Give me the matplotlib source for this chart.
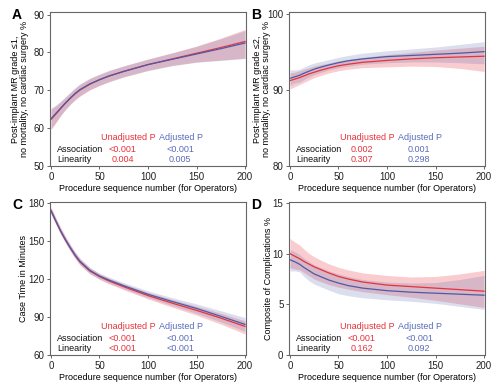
import matplotlib
matplotlib.use("Agg")
import matplotlib.pyplot as plt

plt.rcParams['font.family'] = ['Liberation Sans', 'DejaVu Sans']
plt.rcParams['font.size'] = 6.5

# procedure sequence numbers where the curves were read
seq = [0, 5, 10, 15, 20, 25, 30, 40, 50, 60, 75, 100, 125, 150, 175, 200]

# Panel A: MR grade <=1
a_red = [62.3, 63.7, 65.2, 66.6, 67.9, 69.1, 70.1, 71.6, 72.8, 73.8, 75.0, 76.8, 78.3, 79.8, 81.3, 82.9]
a_red_lo = [59.6, 61.4, 63.3, 64.9, 66.3, 67.5, 68.5, 70.1, 71.3, 72.3, 73.6, 75.3, 76.6, 77.5, 78.0, 78.5]
a_red_hi = [65.0, 65.9, 67.0, 68.2, 69.4, 70.6, 71.6, 73.1, 74.2, 75.2, 76.4, 78.2, 79.9, 81.7, 83.8, 86.1]
a_blue = [62.5, 63.9, 65.3, 66.7, 68.0, 69.2, 70.2, 71.7, 72.8, 73.8, 75.0, 76.8, 78.2, 79.6, 81.0, 82.5]
a_blue_lo = [59.8, 61.6, 63.4, 65.0, 66.4, 67.6, 68.6, 70.2, 71.3, 72.3, 73.5, 75.2, 76.5, 77.4, 77.9, 78.4]
a_blue_hi = [65.3, 66.1, 67.1, 68.3, 69.5, 70.7, 71.7, 73.2, 74.3, 75.3, 76.5, 78.3, 79.9, 81.6, 83.6, 85.8]

# Panel B: MR grade <=2
b_red = [91.2, 91.4, 91.6, 91.85, 92.1, 92.3, 92.5, 92.85, 93.15, 93.35, 93.6, 93.85, 94.05, 94.2, 94.3, 94.4]
b_red_lo = [90.1, 90.4, 90.7, 91.0, 91.3, 91.6, 91.8, 92.2, 92.5, 92.7, 92.9, 93.0, 93.1, 93.05, 92.8, 92.4]
b_red_hi = [92.2, 92.3, 92.5, 92.7, 92.9, 93.1, 93.25, 93.5, 93.8, 94.0, 94.25, 94.6, 94.9, 95.2, 95.45, 95.7]
b_blue = [91.5, 91.7, 91.9, 92.2, 92.45, 92.7, 92.9, 93.25, 93.55, 93.8, 94.05, 94.35, 94.5, 94.65, 94.8, 95.0]
b_blue_lo = [90.6, 90.9, 91.0, 91.4, 91.7, 92.0, 92.2, 92.6, 92.9, 93.1, 93.35, 93.55, 93.65, 93.65, 93.55, 93.4]
b_blue_hi = [92.6, 92.6, 92.7, 93.0, 93.3, 93.5, 93.65, 93.95, 94.25, 94.5, 94.8, 95.1, 95.35, 95.6, 95.95, 96.3]

# Panel C: case time
c_red = [174.5, 166, 158, 151, 144.5, 138.5, 133.5, 126.5, 122, 118.5, 114, 107, 101, 95.3, 89.2, 82.6]
c_red_lo = [172.0, 163.5, 155.5, 148.5, 142.0, 136.0, 131.0, 124.1, 119.7, 116.2, 111.6, 104.3, 97.8, 91.5, 84.4, 76.6]
c_red_hi = [177.0, 168.5, 160.5, 153.5, 147.0, 141.0, 136.0, 128.9, 124.2, 120.7, 116.2, 109.5, 103.9, 98.6, 93.0, 87.0]
c_blue = [174, 165.8, 158, 151, 144.8, 139, 134, 127, 122.5, 119.2, 114.8, 108, 102.3, 96.8, 90.6, 84.2]
c_blue_lo = [171.5, 163.3, 155.5, 148.5, 142.3, 136.5, 131.5, 124.6, 120.2, 116.9, 112.4, 105.3, 99.1, 93.0, 86.2, 78.8]
c_blue_hi = [176.5, 168.3, 160.5, 153.5, 147.3, 141.5, 136.5, 129.4, 124.8, 121.5, 117.2, 110.7, 105.3, 100.4, 95.0, 89.6]

# Panel D: complications
d_red = [10.0, 9.75, 9.5, 9.2, 8.95, 8.7, 8.5, 8.1, 7.75, 7.5, 7.2, 6.9, 6.75, 6.6, 6.45, 6.3]
d_red_lo = [8.6, 8.5, 8.4, 8.1, 7.8, 7.5, 7.3, 6.95, 6.7, 6.5, 6.25, 5.95, 5.7, 5.4, 5.05, 4.7]
d_red_hi = [11.5, 11.15, 10.85, 10.4, 10.0, 9.7, 9.45, 9.0, 8.65, 8.4, 8.1, 7.85, 7.7, 7.75, 8.0, 8.35]
d_blue = [9.4, 9.2, 8.95, 8.6, 8.3, 8.0, 7.8, 7.4, 7.1, 6.85, 6.6, 6.35, 6.2, 6.1, 6.0, 5.9]
d_blue_lo = [8.3, 8.3, 8.2, 7.7, 7.3, 7.0, 6.8, 6.4, 6.05, 5.85, 5.65, 5.45, 5.3, 5.1, 4.8, 4.5]
d_blue_hi = [10.4, 10.2, 9.9, 9.5, 9.2, 8.9, 8.7, 8.3, 8.0, 7.75, 7.45, 7.2, 7.1, 7.15, 7.45, 7.85]

letters = ['A', 'B', 'C', 'D']
ylabels = ['Post-implant MR grade \u22641,\nno mortality, no cardiac surgery %',
           'Post-implant MR grade \u22642,\nno mortality, no cardiac surgery %',
           'Case Time in Minutes',
           'Composite of Complications %']
ylims = [(50, 90.7), (80, 100.2), (60, 181), (0, 15.1)]
yticks = [[50, 60, 70, 80, 90], [80, 90, 100], [60, 90, 120, 150, 180], [0, 5, 10, 15]]
xticks = [0, 50, 100, 150, 200]
p_unadj = [['<0.001', '0.004'], ['0.002', '0.307'], ['<0.001', '<0.001'], ['<0.001', '0.162']]
p_adj = [['<0.001', '0.005'], ['0.001', '0.298'], ['<0.001', '<0.001'], ['<0.001', '0.092']]
label_x = [-0.105, -0.09, -0.11, -0.084]

series = [
    (a_red, a_red_lo, a_red_hi, a_blue, a_blue_lo, a_blue_hi),
    (b_red, b_red_lo, b_red_hi, b_blue, b_blue_lo, b_blue_hi),
    (c_red, c_red_lo, c_red_hi, c_blue, c_blue_lo, c_blue_hi),
    (d_red, d_red_lo, d_red_hi, d_blue, d_blue_lo, d_blue_hi),
]

RED = '#e8313a'
BLUE = '#4c5aa8'
BLUE_TXT = '#5a6cbc'
GREY = '#666666'

fig = plt.figure(figsize=(5.03, 3.90), dpi=100)
W, H = 503.0, 390.0
# axes boxes in pixels: (left, top, right, bottom)
boxes = [(50, 12, 246, 166), (289, 12, 485, 166), (50, 202, 246, 355), (289, 202, 485, 355)]

for i, (l, t, r, b) in enumerate(boxes):
    ax = fig.add_axes([l / W, 1 - b / H, (r - l) / W, (b - t) / H])
    red, red_lo, red_hi, blue, blue_lo, blue_hi = series[i]

    ax.fill_between(seq, red_lo, red_hi, color=RED, alpha=0.24, linewidth=0)
    ax.fill_between(seq, blue_lo, blue_hi, color=BLUE, alpha=0.2, linewidth=0)
    ax.plot(seq, red, color=RED, lw=0.9)
    ax.plot(seq, blue, color=BLUE, lw=0.9)

    ax.set_xlim(-1, 201)
    ax.set_ylim(*ylims[i])
    ax.set_xticks(xticks)
    ax.set_yticks(yticks[i])
    for s in ax.spines.values():
        s.set_color(GREY)
        s.set_linewidth(0.8)
    ax.tick_params(direction='out', length=2.5, width=0.7, color=GREY,
                   labelsize=7, labelcolor='#222222', pad=1.5)

    ax.set_xlabel('Procedure sequence number (for Operators)', fontsize=6.5, labelpad=2)
    ax.set_ylabel(ylabels[i], fontsize=6.5, linespacing=1.0)
    ax.yaxis.set_label_coords(label_x[i], 0.5)

    # p-value table
    ax.text(0.398, 0.188, 'Unadjusted P', color=RED, ha='center', va='center',
            transform=ax.transAxes, fontsize=6.5)
    ax.text(0.670, 0.188, 'Adjusted P', color=BLUE_TXT, ha='center', va='center',
            transform=ax.transAxes, fontsize=6.5)
    for j, (name, yy) in enumerate([('Association', 0.110), ('Linearity', 0.043)]):
        ax.text(0.037, yy, name, color='#111111', ha='left', va='center',
                transform=ax.transAxes, fontsize=6.5)
        ax.text(0.370, yy, p_unadj[i][j], color=RED, ha='center', va='center',
                transform=ax.transAxes, fontsize=6.5)
        ax.text(0.665, yy, p_adj[i][j], color=BLUE_TXT, ha='center', va='center',
                transform=ax.transAxes, fontsize=6.5)

    # panel letter
    fig.text((l - 38) / W, 1 - (t + 3) / H, letters[i], fontsize=10, fontweight='bold',
             ha='left', va='center')

fig.savefig('out.png', dpi=100)
